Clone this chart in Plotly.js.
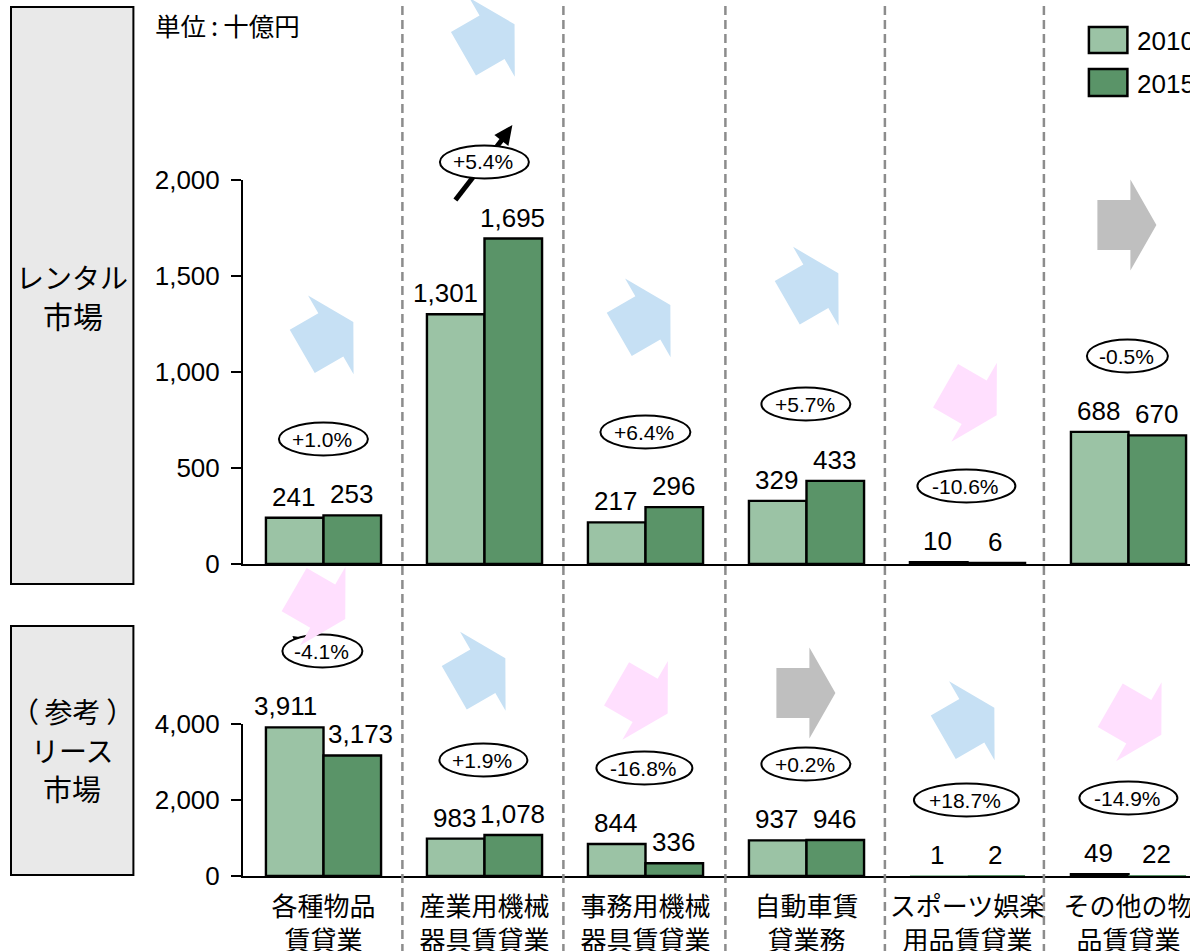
<!DOCTYPE html>
<html lang="ja">
<head>
<meta charset="utf-8">
<script src="https://cdn.plot.ly/plotly-3.0.1.min.js"></script>
<style>
  html, body { margin: 0; padding: 0; background: #fff; overflow: hidden; width: 1190px; height: 951px; }
  #chart { width: 1300px; height: 951px; }
</style>
</head>
<body>
<div id="chart"></div>
<script>
// Rental and lease market size by industry, 2010 vs 2015 (billion yen)
const categories = ['各種物品<br>賃貸業', '産業用機械<br>器具賃貸業', '事務用機械<br>器具賃貸業', '自動車賃<br>貸業務', 'スポーツ娯楽<br>用品賃貸業', 'その他の物<br>品賃貸業'];
const years = ['2010', '2015'];

const rental2010 = [241, 1301, 217, 329, 10, 688];
const rental2015 = [253, 1695, 296, 433, 6, 670];
const lease2010 = [3911, 983, 844, 937, 1, 49];
const lease2015 = [3173, 1078, 336, 946, 2, 22];

// Annual growth figures shown in the ovals
const rentalGrowth = ['+1.0%', '+5.4%', '+6.4%', '+5.7%', '-10.6%', '-0.5%'];
const leaseGrowth = ['-4.1%', '+1.9%', '-16.8%', '+0.2%', '+18.7%', '-14.9%'];

const rentalTicks = [0, 500, 1000, 1500, 2000];
const leaseTicks = [0, 2000, 4000];

const colorLight = '#9BC3A5';
const colorDark = '#5A9468';
const FONT = '"Liberation Sans", Arial, sans-serif';
const FONT_JP = '"Noto Sans CJK JP", "Liberation Sans", sans-serif';

// Page geometry, in pixels
const W = 1300, H = 951;
const ML = 242.6, PW = 966, PH = 876;
const RENTAL_H = 384, LEASE_H = 152;
const px = v => (v - ML) / PW;
const py = v => (PH - v) / PH;

const shapes = [];
const annotations = [];

function polygon(points, fill) {
  const d = points.map((p, i) => (i ? 'L' : 'M') + px(p[0]) + ',' + py(p[1])).join(' ') + ' Z';
  shapes.push({ type: 'path', xref: 'paper', yref: 'paper', path: d, fillcolor: fill, line: { width: 0 } });
}

// Block arrow about a centre; tilt is +1 up-right, -1 down-right, 0 level
function blockArrow(cx, cy, tilt, fill) {
  const a = -tilt * Math.PI / 6;
  const outline = [[-29.5, -25], [3.5, -25], [3.5, -45.5], [29.5, 0], [3.5, 45.5], [3.5, 25], [-29.5, 25]];
  const pts = outline.map(([u, v]) => [
    cx + u * Math.cos(a) - v * Math.sin(a),
    cy + u * Math.sin(a) + v * Math.cos(a)
  ]);
  polygon(pts, fill);
}

function oval(cx, cy, w, text) {
  shapes.push({
    type: 'circle', xref: 'paper', yref: 'paper',
    x0: px(cx - w / 2), x1: px(cx + w / 2), y0: py(cy + 16.5), y1: py(cy - 16.5),
    fillcolor: '#fff', line: { color: '#000', width: 2 }
  });
  annotations.push({
    xref: 'paper', yref: 'paper', x: px(cx - 1), y: py(cy), showarrow: false, text,
    xanchor: 'center', yanchor: 'middle', font: { family: FONT, size: 21, color: '#000' }
  });
}

function pageText(x, y, text, size, family, anchor) {
  annotations.push({
    xref: 'paper', yref: 'paper', x: px(x), y: py(y), showarrow: false, text,
    xanchor: anchor || 'center', yanchor: 'middle', font: { family, size, color: '#000' }
  });
}

function sideBox(y0, y1) {
  shapes.push({
    type: 'rect', xref: 'paper', yref: 'paper', x0: px(10.6), x1: px(133), y0: py(y1), y1: py(y0),
    fillcolor: '#E9E9E9', line: { color: '#000', width: 2 }
  });
}

// Bar value labels; a few sit off-centre where the neighbouring bar would collide
function valueLabels(values, xa, ya, side, shifts) {
  values.forEach((v, i) => annotations.push({
    xref: xa, yref: ya, x: categories[i], y: v, showarrow: false,
    text: v.toLocaleString('en-US'), xanchor: 'center', yanchor: 'bottom',
    xshift: side * 29 - 1.5 + (shifts[i] || 0), yshift: 4,
    font: { family: FONT, size: 26, color: '#000' }
  }));
}

// Dashed dividers between industries
[402, 563, 725, 884.5, 1043.5].forEach(x => shapes.push({
  type: 'line', xref: 'paper', yref: 'paper', x0: px(x), x1: px(x), y0: py(6), y1: py(951),
  line: { color: '#8C8C8C', width: 2.5, dash: '9px,5px' }
}));

// Side panels
sideBox(7, 584);
sideBox(626, 875);
pageText(72, 277, 'レンタル', 28, FONT_JP);
pageText(73, 314.5, '市場', 30, FONT_JP);
pageText(72, 711, '（\u2009参考\u2009）', 28, FONT_JP);
pageText(72, 749.5, 'リース', 28, FONT_JP);
pageText(72, 787.5, '市場', 29, FONT_JP);
pageText(152.5, 24, '単位\u2009:\u2009十億円', 25.5, FONT_JP, 'left');

// Hand-made legend
shapes.push({ type: 'rect', xref: 'paper', yref: 'paper', x0: px(1088.5), x1: px(1127), y0: py(53), y1: py(27), fillcolor: colorLight, line: { color: '#000', width: 2.5 } });
shapes.push({ type: 'rect', xref: 'paper', yref: 'paper', x0: px(1088.5), x1: px(1127), y0: py(96), y1: py(69), fillcolor: colorDark, line: { color: '#000', width: 2.5 } });
pageText(1135, 41, years[0], 26, FONT, 'left');
pageText(1135, 84, years[1], 26, FONT, 'left');

// Trend arrows
const BLUE = '#C6E0F4', PINK = '#FFDFFE', GREY = '#BFBFBF';
blockArrow(327.4, 336.7, 1, BLUE);
blockArrow(488.6, 39, 1, BLUE);
blockArrow(644.4, 319.7, 1, BLUE);
blockArrow(812.4, 288, 1, BLUE);
blockArrow(970.7, 400.5, -1, PINK);
blockArrow(1126.5, 225, 0, GREY);
blockArrow(479.4, 673, 1, BLUE);
blockArrow(641.7, 698.7, -1, PINK);
blockArrow(805.5, 693, 0, GREY);
blockArrow(968.4, 722.5, 1, BLUE);
blockArrow(1135.4, 720, -1, PINK);

// Black growth arrow behind the largest rental oval
shapes.push({ type: 'line', xref: 'paper', yref: 'paper', x0: px(455), x1: px(503), y0: py(200), y1: py(138), line: { color: '#000', width: 5 } });
polygon([[512, 125], [508, 146], [494, 135]], '#000');
// Tip of the black arrow showing behind the first lease oval
polygon([[292, 636], [306, 638], [296, 646]], '#000');

rentalGrowth.forEach((t, i) => oval([323, 484, 645, 805.5, 966, 1127][i], [439, 162, 432, 404, 486, 356][i], [89, 89, 90, 89, 98, 81][i], t));
leaseGrowth.forEach((t, i) => oval([322, 483, 644, 805.5, 966, 1128][i], [651, 760, 768, 764, 800, 798][i], [80, 88, 96, 89, 105, 98][i], t));

// This arrow overlaps the oval beneath it
blockArrow(319.3, 604.3, -1, PINK);

valueLabels(rental2010, 'x2', 'y2', -1, { 1: -9 });
valueLabels(rental2015, 'x2', 'y2', 1, {});
valueLabels(lease2010, 'x', 'y', -1, { 0: -8 });
valueLabels(lease2015, 'x', 'y', 1, { 0: 9 });

// Bars flatter than a pixel lose their outline so they vanish into the axis line
const bars = (name, y, color, xa, ya, pxPerUnit) => ({
  type: 'bar', name, x: categories, y, xaxis: xa, yaxis: ya, hoverinfo: 'y',
  marker: { color, line: { color: '#000', width: y.map(v => v * pxPerUnit < 1 ? 0 : 2.4) } }
});

const data = [
  bars(years[0], rental2010, colorLight, 'x2', 'y2', RENTAL_H / 2000),
  bars(years[1], rental2015, colorDark, 'x2', 'y2', RENTAL_H / 2000),
  bars(years[0], lease2010, colorLight, 'x', 'y', LEASE_H / 4000),
  bars(years[1], lease2015, colorDark, 'x', 'y', LEASE_H / 4000)
];

const yStyle = {
  showline: true, linecolor: '#000', linewidth: 2, showgrid: false, zeroline: false,
  ticks: 'outside', ticklen: 10, tickwidth: 2, tickcolor: '#000', ticklabelstandoff: 6,
  tickformat: ',d', tickfont: { family: FONT, size: 26, color: '#000' }
};
const xStyle = {
  type: 'category', categoryorder: 'array', categoryarray: categories, range: [-0.5, 5.5],
  showline: true, linecolor: '#000', linewidth: 2, showgrid: false, zeroline: false,
  ticks: '', tickangle: 0
};

const layout = {
  width: W, height: H, showlegend: false,
  margin: { l: ML, r: W - ML - PW, t: 0, b: H - PH, pad: 0 },
  paper_bgcolor: '#fff', plot_bgcolor: 'rgba(0,0,0,0)',
  barmode: 'group', bargap: 0.285, bargroupgap: 0,
  xaxis: Object.assign({}, xStyle, { anchor: 'y', tickfont: { family: FONT_JP, size: 26, color: '#000' }, ticklabelstandoff: 7 }),
  xaxis2: Object.assign({}, xStyle, { anchor: 'y2', showticklabels: false }),
  yaxis: Object.assign({}, yStyle, { domain: [0, LEASE_H / PH], range: [0, 4000], tickvals: leaseTicks }),
  yaxis2: Object.assign({}, yStyle, { domain: [(PH - 564) / PH, (PH - 564 + RENTAL_H) / PH], range: [0, 2000], tickvals: rentalTicks }),
  shapes, annotations
};

Plotly.newPlot('chart', data, layout, { displayModeBar: false, responsive: false });
</script>
</body>
</html>
